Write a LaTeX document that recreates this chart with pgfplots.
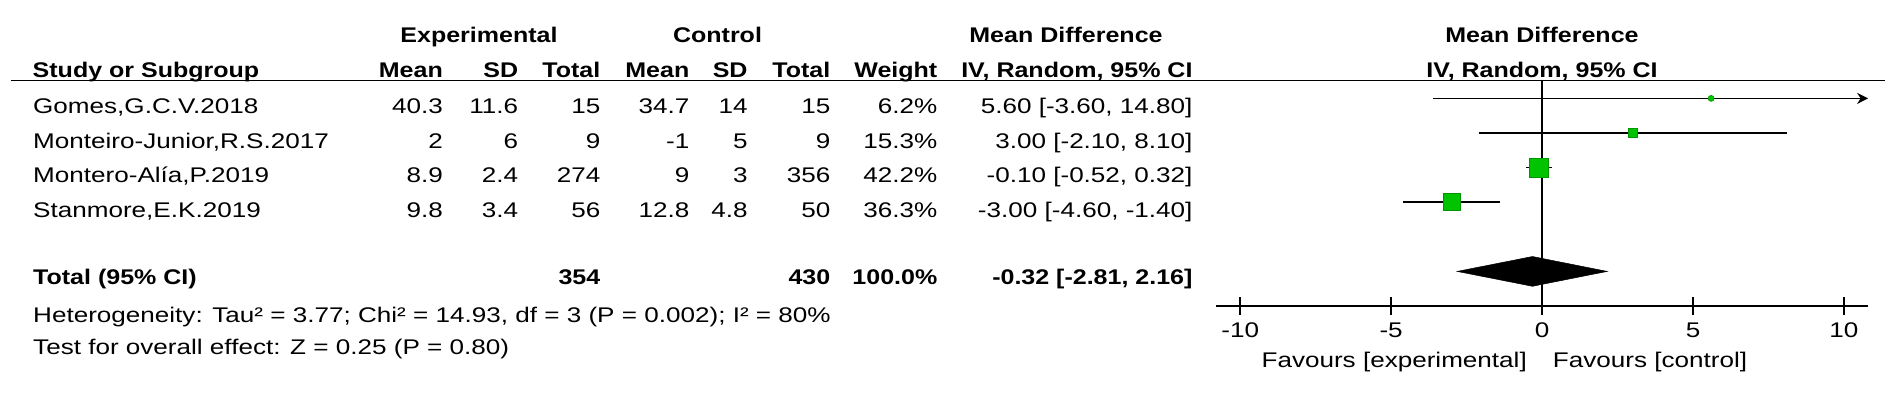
\documentclass[border=0pt]{standalone}
\usepackage{fontspec}
\setmainfont{Liberation Sans}[FakeStretch=1.23]
\newfontfamily\hdfont{Liberation Sans}[FakeStretch=1.18]
\usepackage{pgfplots}
\pgfplotsset{compat=1.18}
\usetikzlibrary{arrows.meta}
\definecolor{mdgreen}{RGB}{0,196,0}
\definecolor{mdgreenD}{RGB}{0,150,0}
\newcommand\rg{\fontsize{21.2bp}{25bp}\selectfont}
\newcommand\hd{\hdfont\bfseries\fontsize{21.2bp}{25bp}\selectfont}
\tikzset{T/.style={inner sep=0pt,font=\rg}, B/.style={inner sep=0pt,font=\hd}}
\begin{document}
\begin{tikzpicture}
\useasboundingbox (0,0) rectangle (1901bp,-403bp);
% header
\node[B,anchor=base] at (479bp,-42.7bp) {Experimental};
\node[B,anchor=base] at (717.5bp,-42.7bp) {Control};
\node[B,anchor=base] at (1066bp,-42.7bp) {Mean Difference};
\node[B,anchor=base] at (1542bp,-42.7bp) {Mean Difference};
\node[B,anchor=base west] at (32.5bp,-77.3bp) {Study or Subgroup};
\node[B,anchor=base east] at (443bp,-77.3bp) {Mean};
\node[B,anchor=base east] at (518.3bp,-77.3bp) {SD};
\node[B,anchor=base east] at (600.5bp,-77.3bp) {Total};
\node[B,anchor=base east] at (689.5bp,-77.3bp) {Mean};
\node[B,anchor=base east] at (747.7bp,-77.3bp) {SD};
\node[B,anchor=base east] at (830.5bp,-77.3bp) {Total};
\node[B,anchor=base east] at (937.5bp,-77.3bp) {Weight};
\node[B,anchor=base east] at (1192.7bp,-77.3bp) {IV, Random, 95\% CI};
\node[B,anchor=base] at (1542bp,-77.3bp) {IV, Random, 95\% CI};
\draw[line width=1.6bp] (10.7bp,-80.5bp) -- (1885bp,-80.5bp);
% rows
\foreach \y/\n/\a/\b/\c/\d/\e/\f/\w/\ci in {
 113.5/{Gomes,G.C.V.2018}/40.3/11.6/15/34.7/14/15/6.2/{5.60 [-3.60, 14.80]},
 148/{Monteiro-Junior,R.S.2017}/2/6/9/-1/5/9/15.3/{3.00 [-2.10, 8.10]},
 182.5/{Montero-Alía,P.2019}/8.9/2.4/274/9/3/356/42.2/{-0.10 [-0.52, 0.32]},
 217/{Stanmore,E.K.2019}/9.8/3.4/56/12.8/4.8/50/36.3/{-3.00 [-4.60, -1.40]}}{
 \node[T,anchor=base west] at (33bp,-\y bp) {\n};
 \node[T,anchor=base east] at (443bp,-\y bp) {\a};
 \node[T,anchor=base east] at (518.3bp,-\y bp) {\b};
 \node[T,anchor=base east] at (600.5bp,-\y bp) {\c};
 \node[T,anchor=base east] at (689.5bp,-\y bp) {\d};
 \node[T,anchor=base east] at (747.7bp,-\y bp) {\e};
 \node[T,anchor=base east] at (830.5bp,-\y bp) {\f};
 \node[T,anchor=base east] at (937.5bp,-\y bp) {\w\%};
 \node[T,anchor=base east] at (1192.7bp,-\y bp) {\ci};
}
% total
\node[B,anchor=base west] at (33bp,-284.5bp) {Total (95\% CI)};
\node[B,anchor=base east] at (600.5bp,-284.5bp) {354};
\node[B,anchor=base east] at (830.5bp,-284.5bp) {430};
\node[B,anchor=base east] at (937.5bp,-284.5bp) {100.0\%};
\node[B,anchor=base east] at (1192.7bp,-284.5bp) {-0.32 [-2.81, 2.16]};
\node[T,anchor=base west] at (33bp,-322bp) {Heterogeneity: Tau² = 3.77; Chi² = 14.93, df = 3 (P = 0.002); I² = 80\%};
\node[T,anchor=base west] at (33bp,-354.5bp) {Test for overall effect: Z = 0.25 (P = 0.80)};
% favours
\node[T,anchor=base east] at (1527bp,-367bp) {Favours [experimental]};
\node[T,anchor=base west] at (1552.7bp,-367bp) {Favours [control]};
\begin{axis}[
  at={(1216bp,-306bp)}, anchor=south west,
  scale only axis, width=652.1bp, height=224.9bp,
  xmin=-10.8, xmax=10.8, ymin=-7, ymax=-0.5,
  clip=false,
  axis x line=bottom, axis y line=none,
  axis line style={line width=1.6bp, -},
  xtick={-10,-5,0,5,10}, xticklabels={-10,-5,0,5,10},
  tick align=center, major tick length=18bp,
  xtick style={line width=1.6bp, black},
  xticklabel style={font=\rg, inner sep=0pt, anchor=base, yshift=-22bp},
  ytick=\empty,
]
\addplot[line width=1.6bp] coordinates {(0,-0.5) (0,-7)};
\addplot[line width=1.6bp, -{Stealth[length=11bp,width=11bp]}] coordinates {(-3.6,-1) (10.8,-1)};
\addplot[line width=1.6bp] coordinates {(-2.1,-2) (8.1,-2)};
\addplot[line width=1.6bp] coordinates {(-0.52,-3) (0.32,-3)};
\addplot[line width=1.6bp] coordinates {(-4.6,-4) (-1.4,-4)};
\addplot[only marks, mark=*, mark size=3bp, mark options={fill=mdgreen, draw=mdgreenD, line width=0.6bp}] coordinates {(5.6,-1)};
\addplot[only marks, mark=square*, mark size=4.7bp, mark options={fill=mdgreen, draw=mdgreenD, line width=0.6bp}] coordinates {(3.0,-2)};
\addplot[only marks, mark=square*, mark size=9.5bp, mark options={fill=mdgreen, draw=mdgreenD, line width=0.6bp}] coordinates {(-0.1,-3)};
\addplot[only marks, mark=square*, mark size=8.5bp, mark options={fill=mdgreen, draw=mdgreenD, line width=0.6bp}] coordinates {(-3.0,-4)};
\addplot[fill=black, draw=black, line width=0.5bp] coordinates {(-2.81,-6) (-0.32,-5.57) (2.16,-6) (-0.32,-6.43)} -- cycle;
\end{axis}
\end{tikzpicture}
\end{document}
